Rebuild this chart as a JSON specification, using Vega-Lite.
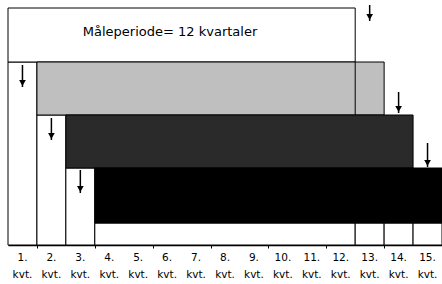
{
  "$schema": "https://vega.github.io/schema/vega-lite/v6.json",
  "width": 434,
  "height": 245,
  "autosize": "none",
  "padding": {"left": 8, "top": 0, "right": 0, "bottom": 39},
  "background": "white",
  "config": {
    "view": {"stroke": null},
    "font": "DejaVu Sans"
  },
  "datasets": {
    "boxes": [
      {"kind": "outline", "x0": 0, "x1": 1, "y0": 0, "y1": 183},
      {"kind": "outline", "x0": 1, "x1": 2, "y0": 0, "y1": 130},
      {"kind": "outline", "x0": 2, "x1": 3, "y0": 0, "y1": 77},
      {"kind": "outline", "x0": 3, "x1": 12, "y0": 0, "y1": 22},
      {"kind": "outline", "x0": 12, "x1": 13, "y0": 0, "y1": 22},
      {"kind": "outline", "x0": 13, "x1": 14, "y0": 0, "y1": 22},
      {"kind": "outline", "x0": 14, "x1": 15, "y0": 0, "y1": 22},
      {"kind": "periode", "x0": 0, "x1": 12, "y0": 183, "y1": 237},
      {"kind": "kvt 2-13", "x0": 1, "x1": 13, "y0": 130, "y1": 183},
      {"kind": "kvt 3-14", "x0": 2, "x1": 14, "y0": 77, "y1": 130},
      {"kind": "kvt 4-15", "x0": 3, "x1": 15, "y0": 22, "y1": 77}
    ],
    "lines": [
      {"x": 12, "y0": 130, "y1": 183}
    ],
    "arrows": [
      {"x": 0.5, "top": 180, "tip": 158, "head": 162},
      {"x": 1.5, "top": 127, "tip": 105, "head": 109},
      {"x": 2.5, "top": 75, "tip": 52, "head": 56},
      {"x": 12.5, "top": 240, "tip": 224, "head": 228},
      {"x": 13.5, "top": 153, "tip": 132, "head": 136},
      {"x": 14.5, "top": 102, "tip": 78, "head": 82}
    ],
    "labels": [
      {"label": "Måleperiode= 12 kvartaler", "x": 5.6, "y": 213}
    ],
    "quarters": [
      {"x": 0.5, "y": -8, "label": "1.\nkvt."},
      {"x": 1.5, "y": -8, "label": "2.\nkvt."},
      {"x": 2.5, "y": -8, "label": "3.\nkvt."},
      {"x": 3.5, "y": -8, "label": "4.\nkvt."},
      {"x": 4.5, "y": -8, "label": "5.\nkvt."},
      {"x": 5.5, "y": -8, "label": "6.\nkvt."},
      {"x": 6.5, "y": -8, "label": "7.\nkvt."},
      {"x": 7.5, "y": -8, "label": "8.\nkvt."},
      {"x": 8.5, "y": -8, "label": "9.\nkvt."},
      {"x": 9.5, "y": -8, "label": "10.\nkvt."},
      {"x": 10.5, "y": -8, "label": "11.\nkvt."},
      {"x": 11.5, "y": -8, "label": "12.\nkvt."},
      {"x": 12.5, "y": -8, "label": "13.\nkvt."},
      {"x": 13.5, "y": -8, "label": "14.\nkvt."},
      {"x": 14.5, "y": -8, "label": "15.\nkvt."}
    ]
  },
  "layer": [
    {
      "data": {"name": "boxes"},
      "mark": {"type": "rect", "stroke": "black", "strokeWidth": 1},
      "encoding": {
        "x": {
          "field": "x0", "type": "quantitative",
          "scale": {"domain": [0, 15], "nice": false, "zero": false},
          "axis": {
            "values": [1, 2, 3, 4, 5, 6, 7, 8, 9, 10, 11, 12, 13, 14, 15],
            "labels": false,
            "grid": false,
            "title": null,
            "domainColor": "black",
            "domainWidth": 1.5,
            "tickColor": "black",
            "tickSize": 3
          }
        },
        "x2": {"field": "x1"},
        "y": {
          "field": "y0", "type": "quantitative",
          "scale": {"domain": [0, 245], "nice": false, "zero": false},
          "axis": null
        },
        "y2": {"field": "y1"},
        "fill": {
          "field": "kind", "type": "nominal", "legend": null,
          "scale": {
            "domain": ["outline", "periode", "kvt 2-13", "kvt 3-14", "kvt 4-15"],
            "range": ["#ffffff", "#ffffff", "#bfbfbf", "#2a2a2a", "#000000"]
          }
        }
      }
    },
    {
      "data": {"name": "lines"},
      "mark": {"type": "rule", "color": "black", "strokeWidth": 1},
      "encoding": {
        "x": {"field": "x", "type": "quantitative"},
        "y": {"field": "y0", "type": "quantitative", "axis": null},
        "y2": {"field": "y1"}
      }
    },
    {
      "data": {"name": "arrows"},
      "mark": {"type": "rule", "color": "black", "strokeWidth": 1.5},
      "encoding": {
        "x": {"field": "x", "type": "quantitative"},
        "y": {"field": "top", "type": "quantitative", "axis": null},
        "y2": {"field": "tip"}
      }
    },
    {
      "data": {"name": "arrows"},
      "mark": {"type": "point", "shape": "triangle-down", "filled": true, "color": "black", "size": 45, "opacity": 1},
      "encoding": {
        "x": {"field": "x", "type": "quantitative"},
        "y": {"field": "head", "type": "quantitative", "axis": null}
      }
    },
    {
      "data": {"name": "labels"},
      "mark": {"type": "text", "fontSize": 13, "color": "black", "align": "center", "baseline": "middle"},
      "encoding": {
        "x": {"field": "x", "type": "quantitative"},
        "y": {"field": "y", "type": "quantitative", "axis": null},
        "text": {"field": "label"}
      }
    },
    {
      "data": {"name": "quarters"},
      "mark": {"type": "text", "fontSize": 10.5, "color": "black", "align": "center", "baseline": "top", "lineBreak": "\n", "lineHeight": 17},
      "encoding": {
        "x": {"field": "x", "type": "quantitative"},
        "y": {"field": "y", "type": "quantitative", "axis": null},
        "text": {"field": "label"}
      }
    }
  ]
}
